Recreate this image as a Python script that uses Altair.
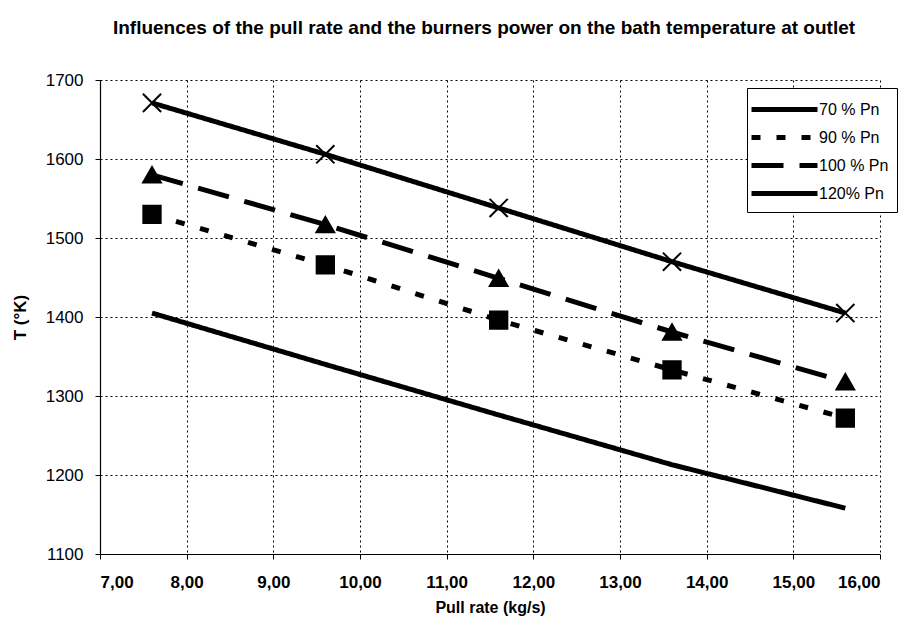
import altair as alt
import pandas as pd

pull_rate = [7.6, 9.6, 11.6, 13.6, 15.6]
series_names = ["70 % Pn", "90 % Pn", "100 % Pn", "120% Pn"]
t_70 = [1405, 1340, 1276, 1213, 1158]
t_90 = [1530, 1466, 1396, 1333, 1272]
t_100 = [1580, 1517, 1449, 1381, 1318]
t_120 = [1671, 1606, 1538, 1470, 1405]
x_ticks = [7, 8, 9, 10, 11, 12, 13, 14, 15, 16]
y_ticks = [1100, 1200, 1300, 1400, 1500, 1600, 1700]

rows = []
for name, vals in zip(series_names, [t_70, t_90, t_100, t_120]):
    for x, y in zip(pull_rate, vals):
        rows.append({"x": x, "T": y, "series": name})
df = pd.DataFrame(rows)

FONT = "Liberation Sans"
X_PATH = "M-1,-1L1,1M-1,1L1,-1"
LINE_PATH = "M-3,0L3,0"

xenc = alt.X("x:Q", scale=alt.Scale(domain=[7, 16], nice=False, zero=False),
             axis=alt.Axis(values=x_ticks, title="Pull rate (kg/s)",
                           labelExpr="replace(format(datum.value, '.2f'), '.', ',')"))
yenc = alt.Y("T:Q", scale=alt.Scale(domain=[1100, 1700], nice=False, zero=False),
             axis=alt.Axis(values=y_ticks, title="T (°K)", format="d"))

lines = alt.Chart(df).mark_line(color="black", strokeWidth=5, strokeCap="butt").encode(
    x=xenc, y=yenc,
    strokeDash=alt.StrokeDash("series:N",
        scale=alt.Scale(domain=series_names, range=[[1, 0], [9, 16], [32, 16], [1, 0]]),
        legend=alt.Legend(title=None, orient="none", legendX=647, legendY=8,
                          symbolType=LINE_PATH, symbolSize=484, symbolStrokeWidth=5,
                          symbolOffset=16,
                          symbolStrokeColor="black", labelFontSize=16, labelFont=FONT,
                          labelColor="black", rowPadding=4, labelOffset=21,
                          strokeColor="black", fillColor="white", padding=8)),
    detail="series:N",
)

points = alt.Chart(df).transform_filter(alt.datum.series != "70 % Pn").mark_point(
    filled=True, color="black", stroke="black", strokeWidth=2, opacity=1
).encode(
    x="x:Q", y="T:Q",
    shape=alt.Shape("series:N", scale=alt.Scale(domain=series_names[1:],
                    range=["square", "triangle-up", X_PATH]), legend=None),
    size=alt.Size("series:N", scale=alt.Scale(domain=series_names[1:],
                  range=[300, 330, 480]), legend=None),
)

chart = alt.layer(lines, points).properties(
    width=780, height=474,
    background="white",
    title=alt.TitleParams("Influences of the pull rate and the burners power on the bath temperature at outlet",
                          font=FONT, fontSize=19, fontWeight="bold", color="black",
                          anchor="middle", offset=33, dx=-6),
    autosize=alt.AutoSizeParams(type="none"),
    padding={"left": 92, "top": 72, "right": 20, "bottom": 64},
).configure_view(stroke=None).configure_axis(
    grid=True, gridColor="black", gridDash=[2, 3], gridWidth=1, gridOpacity=1,
    domainColor="black", domainWidth=1.2, tickColor="black", tickSize=5,
    labelFont=FONT, titleFont=FONT, labelColor="black", titleColor="black",
).configure_axisX(
    labelFontSize=17, labelFontWeight="bold", labelPadding=15,
    titleFontSize=16, titleFontWeight="bold", titlePadding=9,
).configure_axisY(
    labelFontSize=17, labelPadding=12, titleFontSize=17, titleFontWeight="bold",
    titlePadding=16,
)

chart.save("out.html", embed_options={"renderer": "svg", "actions": False})
